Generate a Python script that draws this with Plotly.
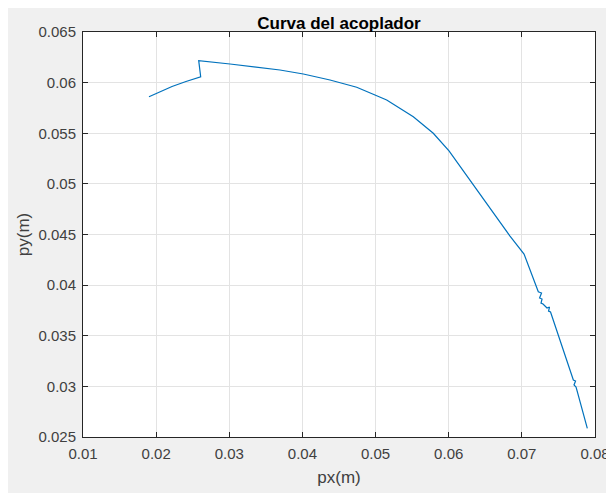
import plotly.graph_objects as go

# coupler curve points (m)
px = [0.01902, 0.02053, 0.02217, 0.02408, 0.02609, 0.02582, 0.02623, 0.03010,
      0.03693, 0.04012, 0.04377, 0.04742, 0.04992, 0.05152, 0.05516, 0.05789,
      0.06004, 0.06291, 0.06565, 0.06838, 0.07030, 0.07157, 0.07225,
      0.07269, 0.07242, 0.07276, 0.07262, 0.07289, 0.07344,
      0.07378, 0.07365, 0.07392, 0.07477, 0.07590, 0.07704,
      0.07734, 0.07713, 0.07741, 0.07895]
py = [0.05861, 0.05912, 0.05962, 0.06011, 0.06058, 0.06217, 0.06214, 0.06184,
      0.06125, 0.06085, 0.06026, 0.05954, 0.05878, 0.05828, 0.05663, 0.05500,
      0.05325, 0.05038, 0.04762, 0.04485, 0.04307, 0.04051, 0.03935,
      0.03922, 0.03873, 0.03863, 0.03823, 0.03814, 0.03774,
      0.03784, 0.03744, 0.03735, 0.03557, 0.03310, 0.03063,
      0.03053, 0.03014, 0.02994, 0.02586]

xticks = [0.01, 0.02, 0.03, 0.04, 0.05, 0.06, 0.07, 0.08]
yticks = [0.025, 0.03, 0.035, 0.04, 0.045, 0.05, 0.055, 0.06, 0.065]

fig = go.Figure()
fig.add_trace(go.Scatter(x=px, y=py, mode="lines",
                         line=dict(color="#0072BD", width=1.2)))

axisstyle = dict(showline=True, linecolor="#262626", linewidth=1, mirror="ticks",
                 ticks="inside", ticklen=5, tickcolor="#262626", automargin=False,
                 showgrid=True, gridcolor="#e3e3e3", gridwidth=1, zeroline=False,
                 tickfont=dict(size=15, color="#404040"))

fig.update_xaxes(range=[0.01, 0.08], tickvals=xticks, ticklabelstandoff=3,
                 title=dict(text="px(m)", font=dict(size=17, color="#404040"), standoff=10),
                 **axisstyle)
fig.update_yaxes(range=[0.025, 0.065], tickvals=yticks, ticklabelstandoff=3,
                 title=dict(text="py(m)", font=dict(size=17, color="#404040"), standoff=4),
                 **axisstyle)

# the page body adds 8px, so the figure is a bit smaller than the window
fig.update_layout(
    width=606, height=485,
    margin=dict(l=75, r=19, t=24, b=56),
    paper_bgcolor="#f0f0f0", plot_bgcolor="white",
    font=dict(family="Liberation Sans, Arial, sans-serif"),
    title=dict(text="<b>Curva del acoplador</b>", x=0.5, xref="paper", xanchor="center",
               y=1, yref="paper", yanchor="bottom", pad=dict(b=3),
               font=dict(size=17, color="black")),
    showlegend=False,
)

fig.write_html("out.html")
